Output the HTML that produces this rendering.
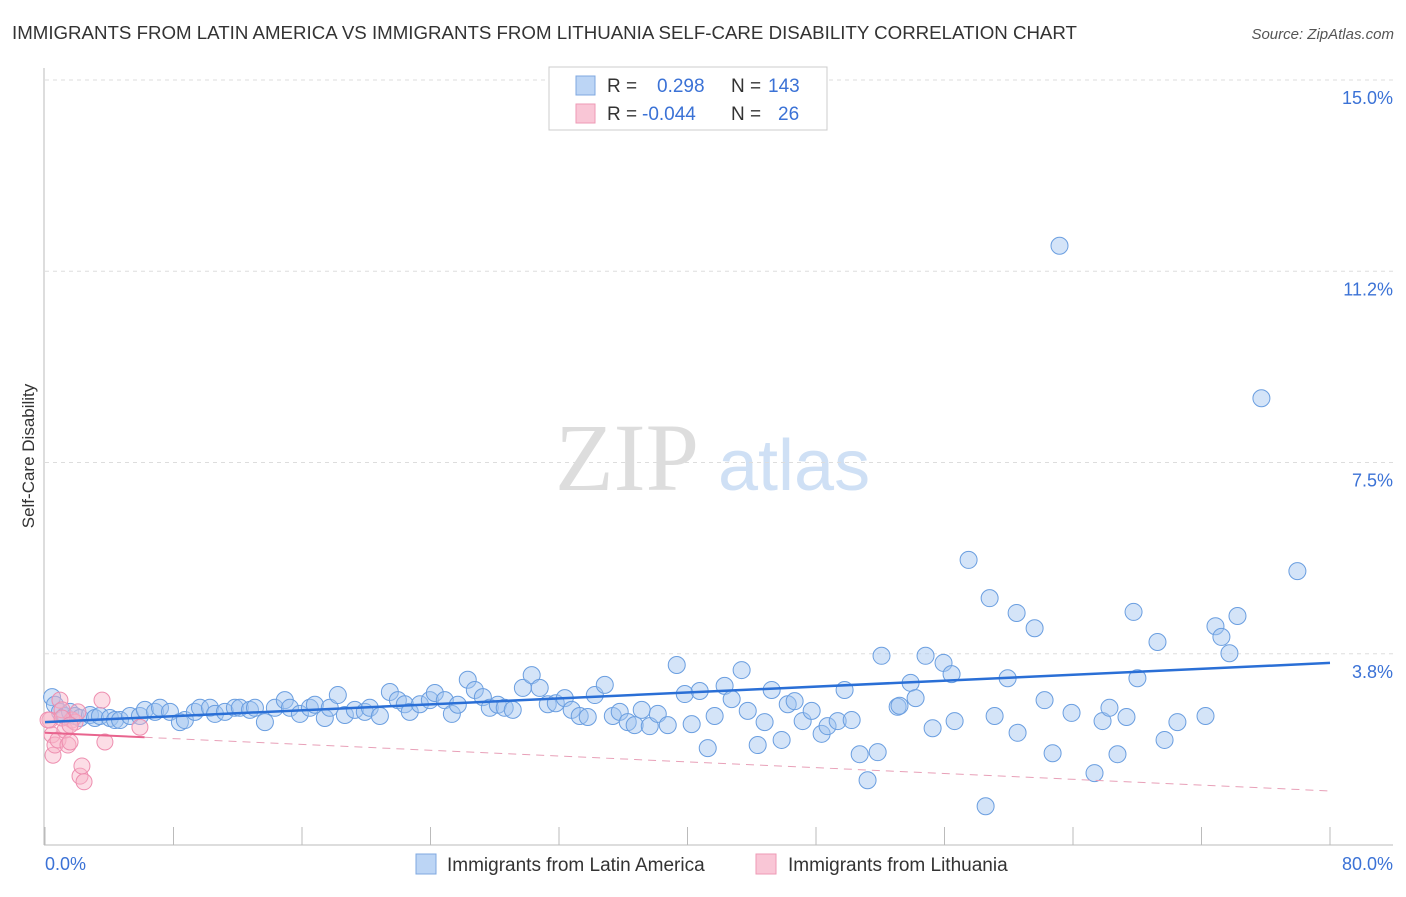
<!DOCTYPE html>
<html><head><meta charset="utf-8"><style>
body{margin:0;background:#fff;font-family:"Liberation Sans",sans-serif;}
svg text{font-family:"Liberation Sans",sans-serif;}
</style></head><body>
<svg width="1406" height="892" xmlns="http://www.w3.org/2000/svg">
<text x="12" y="39" font-size="18.7" fill="#333">IMMIGRANTS FROM LATIN AMERICA VS IMMIGRANTS FROM LITHUANIA SELF-CARE DISABILITY CORRELATION CHART</text>
<text x="1394" y="39" font-size="15" fill="#555" font-style="italic" text-anchor="end">Source: ZipAtlas.com</text>
<text x="555" y="490" font-size="96" fill="#ddd" style="font-family:'Liberation Serif',serif">ZIP</text>
<text x="718" y="490" font-size="72" fill="#cfe0f5">atlas</text>
<g id="grid"></g>
<g id="axes"></g>
<g id="pts"></g>
<g id="lines"></g>
<text transform="translate(34,456) rotate(-90)" font-size="17" fill="#333" text-anchor="middle">Self-Care Disability</text>
<text x="45" y="870" font-size="18" fill="#3b72d6">0.0%</text>
<text x="1393" y="870" font-size="18" fill="#3b72d6" text-anchor="end">80.0%</text>
<g>
<rect x="549" y="67" width="278" height="63" fill="#fff" stroke="#ccc"/>
<rect x="576" y="76" width="19" height="19" fill="#bcd5f5" stroke="#7fa8e0"/>
<rect x="576" y="104" width="19" height="19" fill="#f9c6d6" stroke="#ee9ab5"/>
<text x="607" y="92" font-size="19" fill="#333">R = <tspan x="657" fill="#3b72d6">0.298</tspan><tspan x="731" fill="#333">N = </tspan><tspan x="768" fill="#3b72d6">143</tspan></text>
<text x="607" y="120" font-size="19" fill="#333">R = <tspan x="642" fill="#3b72d6">-0.044</tspan><tspan x="731" fill="#333">N = </tspan><tspan x="778" fill="#3b72d6">26</tspan></text>
</g>
<g>
<rect x="416" y="854" width="20" height="20" fill="#bcd5f5" stroke="#7fa8e0"/>
<text x="447" y="871" font-size="19" fill="#333">Immigrants from Latin America</text>
<rect x="756" y="854" width="20" height="20" fill="#f9c6d6" stroke="#ee9ab5"/>
<text x="788" y="871" font-size="19" fill="#333">Immigrants from Lithuania</text>
</g>
</svg>
<script>
const yTicks=[3.75,7.5,11.25,15];
const yTickLabels=["3.8%","7.5%","11.2%","15.0%"];
const xTicks=[0,8,16,24,32,40,48,56,64,72,80];
const blueX=[0.44,0.62,0.93,1.24,1.56,1.87,2.18,2.80,3.11,3.42,4.04,4.36,4.67,5.29,5.91,6.22,6.85,7.16,7.78,8.40,8.71,9.33,9.65,10.27,10.58,11.20,11.82,12.13,12.76,13.07,13.69,14.31,14.93,15.25,15.87,16.49,16.80,17.42,17.73,18.23,18.67,19.29,19.91,20.22,20.85,21.47,21.97,22.40,22.71,23.34,23.96,24.27,24.89,25.33,25.70,26.32,26.76,27.26,27.69,28.19,28.62,29.12,29.75,30.30,30.80,31.30,31.80,32.36,32.79,33.29,33.79,34.23,34.85,35.35,35.78,36.28,36.71,37.15,37.65,38.15,38.77,39.33,39.83,40.26,40.76,41.26,41.69,42.31,42.75,43.37,43.75,44.37,44.80,45.24,45.86,46.24,46.67,47.17,47.73,48.35,48.72,49.35,49.78,50.22,50.72,51.21,51.84,52.08,53.08,53.20,53.89,54.20,54.82,55.26,55.94,56.44,56.63,57.50,58.56,58.81,59.12,59.93,60.49,60.55,61.61,62.23,62.73,63.16,63.91,65.34,65.84,66.27,66.77,67.33,67.77,68.01,69.26,69.70,70.50,72.25,72.87,73.24,73.74,74.24,75.73,77.97];
const blueY=[2.90,2.75,2.61,2.53,2.61,2.53,2.49,2.55,2.49,2.53,2.49,2.45,2.45,2.53,2.53,2.65,2.61,2.69,2.61,2.41,2.45,2.61,2.69,2.69,2.57,2.61,2.69,2.69,2.65,2.69,2.41,2.69,2.84,2.69,2.57,2.69,2.75,2.49,2.69,2.94,2.55,2.65,2.61,2.69,2.53,3.00,2.84,2.76,2.61,2.76,2.84,2.98,2.84,2.57,2.75,3.24,3.04,2.90,2.69,2.75,2.69,2.65,3.08,3.33,3.08,2.76,2.78,2.88,2.65,2.53,2.51,2.94,3.14,2.53,2.61,2.41,2.35,2.65,2.33,2.57,2.35,3.53,2.96,2.37,3.02,1.90,2.53,3.12,2.86,3.43,2.63,1.96,2.41,3.04,2.06,2.76,2.82,2.43,2.63,2.18,2.33,2.43,3.04,2.45,1.78,1.27,1.82,3.71,2.71,2.73,3.18,2.88,3.71,2.29,3.57,3.35,2.43,5.59,0.76,4.84,2.53,3.27,4.55,2.20,4.25,2.84,1.80,11.75,2.59,1.41,2.43,2.69,1.78,2.51,4.57,3.27,3.98,2.06,2.41,2.53,4.29,4.08,3.76,4.49,8.76,5.37];
const pinkX=[0.31,0.44,0.50,0.62,0.81,0.93,1.06,1.24,1.43,1.56,1.68,1.87,2.05,2.18,2.30,2.43,3.55,3.73,5.91,0.19,1.06,1.56];
const pinkY=[2.45,2.16,1.76,1.96,2.06,2.84,2.65,2.25,1.96,2.02,2.45,2.41,2.61,1.35,1.55,1.24,2.84,2.02,2.31,2.45,2.49,2.35];
const blueTrend=[2.41,3.57];
const pinkTrend=[2.20,1.06];
const pinkSolidEnd=6.2;
const X=v=>45+v*(1285/80), Y=v=>845-v*51;
const NS="http://www.w3.org/2000/svg";
function mk(t,a,p){const e=document.createElementNS(NS,t);for(const k in a)e.setAttribute(k,a[k]);p.appendChild(e);return e;}
const grid=document.getElementById('grid'),axes=document.getElementById('axes'),pts=document.getElementById('pts'),lines=document.getElementById('lines');
yTicks.forEach((v,i)=>{const l=mk('line',{x1:45,x2:1393,y1:Y(v),y2:Y(v),stroke:'#ddd','stroke-dasharray':'4,4'},grid);


const t=mk('text',{x:1393,y:Y(v)+24,'font-size':18,fill:'#3b72d6','text-anchor':'end'},grid);t.textContent=yTickLabels[i];

});
const topLine=mk('line',{x1:45,x2:1393,y1:80,y2:80,stroke:'#ddd','stroke-dasharray':'4,4'},grid);


const ya=mk('line',{x1:44,x2:44,y1:68,y2:845,stroke:'#bbb'},axes);


const xa=mk('line',{x1:44,x2:1393,y1:845,y2:845,stroke:'#bbb'},axes);


xTicks.forEach(v=>{const t=mk('line',{x1:X(v),x2:X(v),y1:827,y2:845,stroke:'#bbb'},axes);

});
blueX.forEach((v,i)=>{const c=mk('circle',{cx:X(v),cy:Y(blueY[i]),r:8.5,fill:'rgba(160,196,240,0.45)',stroke:'#6a9ee0','stroke-width':1},pts);

});
pinkX.forEach((v,i)=>{const c=mk('circle',{cx:X(v),cy:Y(pinkY[i]),r:8,fill:'rgba(248,180,200,0.45)',stroke:'#ee8fb0','stroke-width':1},pts);

});
const bl=mk('line',{x1:X(0),y1:Y(blueTrend[0]),x2:X(80),y2:Y(blueTrend[1]),stroke:'#2a6fd6','stroke-width':2.5},lines);


const pAt=x=>pinkTrend[0]+(pinkTrend[1]-pinkTrend[0])*x/80;
const ps=mk('line',{x1:X(0),y1:Y(pAt(0)),x2:X(pinkSolidEnd),y2:Y(pAt(pinkSolidEnd)),stroke:'#e8648e','stroke-width':2},lines);


const pd=mk('line',{x1:X(pinkSolidEnd),y1:Y(pAt(pinkSolidEnd)),x2:X(80),y2:Y(pAt(80)),stroke:'#e8a0b8','stroke-width':1,'stroke-dasharray':'8,6'},lines);


</script>
</body></html>
